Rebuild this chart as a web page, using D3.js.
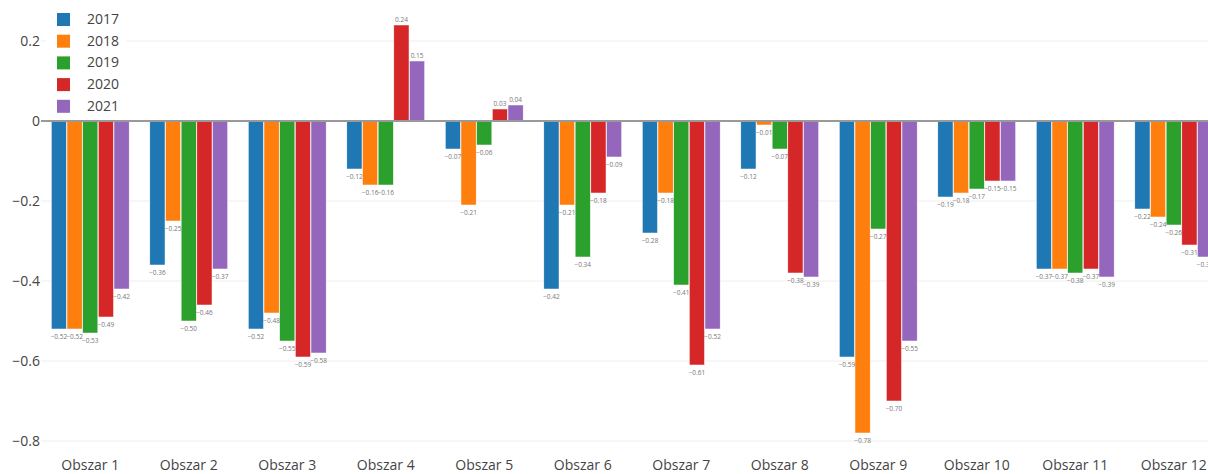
<!DOCTYPE html>
<html><head><meta charset="utf-8">
<script src="https://cdn.jsdelivr.net/npm/d3@7"></script>
<style>body{margin:0;background:#fff;overflow:hidden}svg{display:block;font-family:"Open Sans",sans-serif}</style>
</head><body><svg id="c" width="1208" height="474"></svg>
<script>
const categories = ["Obszar 1","Obszar 2","Obszar 3","Obszar 4","Obszar 5","Obszar 6","Obszar 7","Obszar 8","Obszar 9","Obszar 10","Obszar 11","Obszar 12"];
const seriesNames = ["2017","2018","2019","2020","2021"];
const colors = ["#1f77b4","#ff7f0e","#2ca02c","#d62728","#9467bd"];
const v2017 = [-0.52,-0.36,-0.52,-0.12,-0.07,-0.42,-0.28,-0.12,-0.59,-0.19,-0.37,-0.22];
const v2018 = [-0.52,-0.25,-0.48,-0.16,-0.21,-0.21,-0.18,-0.01,-0.78,-0.18,-0.37,-0.24];
const v2019 = [-0.53,-0.50,-0.55,-0.16,-0.06,-0.34,-0.41,-0.07,-0.27,-0.17,-0.38,-0.26];
const v2020 = [-0.49,-0.46,-0.59,0.24,0.03,-0.18,-0.61,-0.38,-0.70,-0.15,-0.37,-0.31];
const v2021 = [-0.42,-0.37,-0.58,0.15,0.04,-0.09,-0.52,-0.39,-0.55,-0.15,-0.39,-0.34];
const yTicks = [0.2,0,-0.2,-0.4,-0.6,-0.8];
const series = [v2017,v2018,v2019,v2020,v2021];

const svg = d3.select("#c");
const plotL = 41, plotR = 1223;
const x = d3.scaleBand().domain(categories).range([plotL, plotR]).paddingInner(0.2).paddingOuter(0.1);
const xs = d3.scaleBand().domain(seriesNames).range([0, x.bandwidth()]).padding(0.03);
const y = d3.scaleLinear().domain([-0.8, 0.2]).range([441, 41]);

// gridlines
svg.append("g").selectAll("line").data(yTicks.filter(t=>t!==0)).join("line")
  .attr("x1", plotL).attr("x2", plotR).attr("y1", d=>y(d)).attr("y2", d=>y(d))
  .attr("stroke", "#eeeeee").attr("stroke-width", 1);

// y axis labels
const yAxis = d3.axisLeft(y).tickValues(yTicks).tickSize(0).tickPadding(0)
  .tickFormat(d => d === 0 ? "0" : d3.format(".1f")(d).replace("-", "\u2212"));
const ya = svg.append("g").attr("transform", `translate(${plotL-1},0)`).call(yAxis);
ya.select(".domain").remove();
ya.selectAll("text").attr("font-size", 14).attr("fill", "#444").attr("font-family", "'Open Sans',sans-serif");

// x axis labels
const xAxis = d3.axisBottom(x).tickSize(0).tickPadding(0);
const xa = svg.append("g").attr("transform", "translate(0,460)").call(xAxis);
xa.select(".domain").remove();
xa.selectAll("text").attr("font-size", 14).attr("fill", "#444").attr("font-family", "'Open Sans',sans-serif");

// bars
const data = [];
categories.forEach((c,i)=>seriesNames.forEach((s,j)=>data.push({c, s, j, v: series[j][i]})));
const bars = svg.append("g");
bars.selectAll("rect").data(data).join("rect")
  .attr("x", d => x(d.c) + xs(d.s))
  .attr("width", xs.bandwidth())
  .attr("y", d => Math.min(y(d.v), y(0)))
  .attr("height", d => Math.abs(y(d.v) - y(0)))
  .attr("fill", d => colors[d.j])
  .attr("stroke", "#ffffff").attr("stroke-width", 0.5);

// zero line
svg.append("line").attr("x1", plotL).attr("x2", plotR).attr("y1", y(0)).attr("y2", y(0))
  .attr("stroke", "#999").attr("stroke-width", 2);

// data labels
svg.append("g").selectAll("text").data(data).join("text")
  .attr("x", d => x(d.c) + xs(d.s) + xs.bandwidth()/2)
  .attr("y", d => d.v < 0 ? y(d.v) + 10 : y(d.v) - 3)
  .attr("text-anchor", "middle")
  .attr("font-size", 6.5).attr("fill", "#777")
  .text(d => d3.format(".2f")(d.v));

// legend
const lg = svg.append("g");
lg.append("rect").attr("x", 46).attr("y", 4).attr("width", 80).attr("height", 112).attr("fill", "#fff");
seriesNames.forEach((s,i)=>{
  const yy = 13 + i*21.7;
  lg.append("rect").attr("x", 57).attr("y", yy).attr("width", 13).attr("height", 13).attr("fill", colors[i]);
  lg.append("text").attr("x", 87).attr("y", yy + 11).attr("font-size", 14).attr("fill", "#444").text(s);
});
</script></body></html>
